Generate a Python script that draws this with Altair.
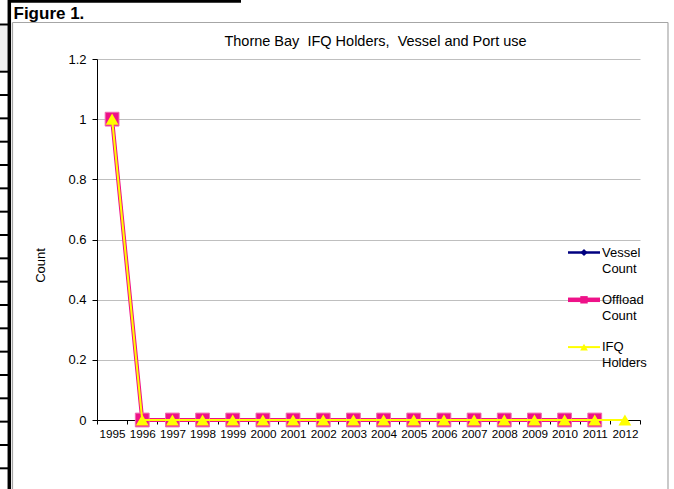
import altair as alt
import pandas as pd

FONT = "Liberation Sans"

# ---- data -------------------------------------------------------------
years = ["1995", "1996", "1997", "1998", "1999", "2000", "2001", "2002", "2003",
         "2004", "2005", "2006", "2007", "2008", "2009", "2010", "2011", "2012"]
# 1995-2011
vessel_count = [1, 0, 0, 0, 0, 0, 0, 0, 0, 0, 0, 0, 0, 0, 0, 0, 0]
# 1995-2011
offload_count = [1, 0, 0, 0, 0, 0, 0, 0, 0, 0, 0, 0, 0, 0, 0, 0, 0]
# 1995-2012
ifq_holders = [1, 0, 0, 0, 0, 0, 0, 0, 0, 0, 0, 0, 0, 0, 0, 0, 0, 0]

series_names = ["Vessel Count", "Offload Count", "IFQ Holders"]
legend_lines = [("Vessel", "Count"), ("Offload", "Count"), ("IFQ", "Holders")]
y_ticks = [0, 0.2, 0.4, 0.6, 0.8, 1.0, 1.2]

NAVY, PINK, YELLOW = "#000080", "#EE1289", "#FFFF00"
colors = [NAVY, PINK, YELLOW]
shapes = ["diamond", "square", "triangle-up"]

rows = []
for name, vals in zip(series_names, [vessel_count, offload_count, ifq_holders]):
    for yr, v in zip(years, vals):
        rows.append({"series": name, "year": yr, "value": v})
df = pd.DataFrame(rows)

# plot area sits at (97, 59) inside a 674 x 489 canvas
W, H = 543, 361
OX, OY = 97, 59

color_scale = alt.Scale(domain=series_names, range=colors)
shape_scale = alt.Scale(domain=series_names, range=shapes)

x_enc = alt.X(
    "year:O", sort=years,
    scale=alt.Scale(type="band", domain=years, paddingInner=0, paddingOuter=0),
    axis=alt.Axis(title=None, labelAngle=0, tickBand="extent", grid=False,
                  domainColor="black", tickColor="black", tickSize=4,
                  labelPadding=4, labelFont=FONT, labelFontSize=11.7,
                  labelColor="black"),
)
y_enc = alt.Y(
    "value:Q",
    scale=alt.Scale(domain=[0, 1.2], nice=False, zero=True),
    axis=alt.Axis(title="Count", values=y_ticks, format="~g", grid=True,
                  gridColor="#BFBFBF", gridWidth=1, domainColor="black",
                  tickColor="black", tickSize=5, labelPadding=6,
                  labelFont=FONT, labelFontSize=13, labelColor="black",
                  titleFont=FONT, titleFontSize=13, titleFontWeight="normal",
                  titleColor="black", titleX=40 - OX, titleY=265 - OY,
                  titleAlign="center", titleBaseline="middle"),
)
color_enc = alt.Color("series:N", scale=color_scale, legend=None)
shape_enc = alt.Shape("series:N", scale=shape_scale, legend=None)

base = alt.Chart(df).encode(x=x_enc, y=y_enc, color=color_enc)


def series_layers(name, line_width, marker_size, marker_stroke=None):
    sub = base.transform_filter(alt.datum.series == name)
    line = sub.mark_line(strokeWidth=line_width)
    pt_kwargs = dict(filled=True, size=marker_size, opacity=1)
    if marker_stroke:
        pt_kwargs.update(stroke=marker_stroke, strokeWidth=1)
    pts = sub.mark_point(**pt_kwargs).encode(shape=shape_enc)
    return [line, pts]


data_layers = (
    series_layers("Vessel Count", 2.5, 64)
    + series_layers("Offload Count", 4, 190, "#F06AAE")
    + series_layers("IFQ Holders", 2, 165)
)

# ---- page furniture ---------------------------------------------------
one = pd.DataFrame({"k": [0]})

frame_color = "#A6A6A6"
frame = [
    alt.Chart(one).mark_rule(color=frame_color, strokeWidth=1.2).encode(
        x=alt.value(12.5 - OX), x2=alt.value(668 - OX),
        y=alt.value(22.5 - OY)),
    alt.Chart(one).mark_rule(color=frame_color, strokeWidth=1.2).encode(
        x=alt.value(12.5 - OX), y=alt.value(22.5 - OY), y2=alt.value(489 - OY)),
    alt.Chart(one).mark_rule(color=frame_color, strokeWidth=1.2).encode(
        x=alt.value(668 - OX), y=alt.value(22.5 - OY), y2=alt.value(489 - OY)),
]

# document table edge on the left
edge_rows = [24.5] + [71.7 + 23.33 * k for k in range(18)]
edge_df = pd.DataFrame({"py": [v - OY for v in edge_rows]})
table_edge = [
    alt.Chart(one).mark_rect(color="#EFEFEF").encode(
        x=alt.value(0 - OX), x2=alt.value(8 - OX),
        y=alt.value(25.5 - OY), y2=alt.value(70.5 - OY)),
    alt.Chart(edge_df).mark_rule(color="black", strokeWidth=2).encode(
        x=alt.value(0 - OX), x2=alt.value(9 - OX),
        y=alt.Y("py:Q", scale=None)),
    alt.Chart(one).mark_rule(color="black", strokeWidth=3.5).encode(
        x=alt.value(9.3 - OX), y=alt.value(0 - OY), y2=alt.value(489 - OY)),
    alt.Chart(one).mark_rule(color="black", strokeWidth=3).encode(
        x=alt.value(8 - OX), x2=alt.value(241 - OX), y=alt.value(1.3 - OY)),
]

fig_label = alt.Chart(one).mark_text(
    text="Figure 1.", font=FONT, fontSize=17, fontWeight="bold",
    align="left", baseline="alphabetic", color="black",
).encode(x=alt.value(13.5 - OX), y=alt.value(18.5 - OY))

title = alt.Chart(one).mark_text(
    text="Thorne Bay\u00a0 IFQ Holders,\u00a0 Vessel and Port use",
    font=FONT, fontSize=14.5, align="center", baseline="alphabetic",
    color="black",
).encode(x=alt.value(375.5 - OX), y=alt.value(45.5 - OY))

# ---- legend -----------------------------------------------------------
leg_df = pd.DataFrame({
    "series": series_names,
    "line1": [a for a, _ in legend_lines],
    "line2": [b for _, b in legend_lines],
    "ly": [252.5 - OY + 47.3 * i for i in range(len(series_names))],
})
leg_df["ly2"] = leg_df["ly"] + 16
leg_y = alt.Y("ly:Q", scale=None)
leg_widths = {"Vessel Count": 2.5, "Offload Count": 4.5, "IFQ Holders": 2}
leg_sizes = {"Vessel Count": 50, "Offload Count": 55, "IFQ Holders": 60}

legend = []
for name in series_names:
    src = alt.Chart(leg_df).transform_filter(alt.datum.series == name)
    legend.append(src.mark_rule(strokeWidth=leg_widths[name]).encode(
        x=alt.value(568 - OX), x2=alt.value(600 - OX), y=leg_y,
        color=color_enc))
    legend.append(src.mark_point(filled=True, opacity=1,
                                 size=leg_sizes[name]).encode(
        x=alt.value(584 - OX), y=leg_y, color=color_enc, shape=shape_enc))
legend += [
    alt.Chart(leg_df).mark_text(font=FONT, fontSize=13, align="left",
                                baseline="middle", color="black").encode(
        x=alt.value(602 - OX), y=leg_y, text="line1:N"),
    alt.Chart(leg_df).mark_text(font=FONT, fontSize=13, align="left",
                                baseline="middle", color="black").encode(
        x=alt.value(602 - OX), y=alt.Y("ly2:Q", scale=None), text="line2:N"),
]

chart = alt.layer(
    *frame, *table_edge, *data_layers, *legend, fig_label, title
).properties(
    width=W, height=H,
    autosize=alt.AutoSizeParams(type="none"),
    padding={"left": OX, "top": OY, "right": 674 - OX - W, "bottom": 489 - OY - H},
    background="white",
).configure_view(stroke=None)

chart.save("out.html", embed_options={"renderer": "svg", "actions": False})
